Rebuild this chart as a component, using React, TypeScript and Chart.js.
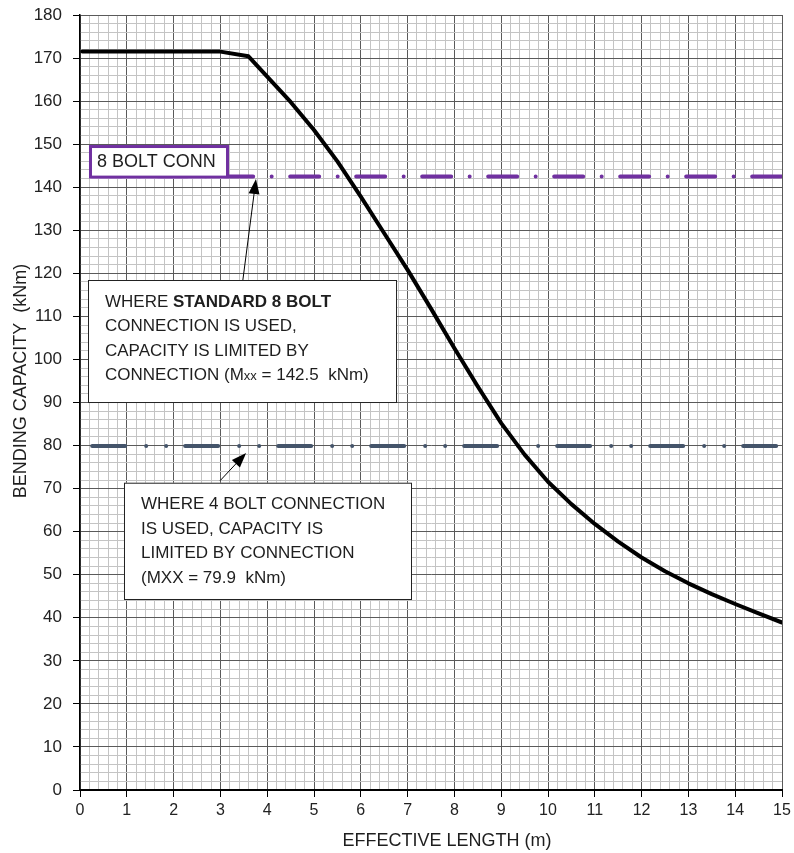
import React, { useEffect, useRef } from "react";
import { Chart, registerables } from "chart.js";

Chart.register(...registerables);

// ---- data ----
const effectiveLength = [0.05, 1.5, 3.0, 3.6, 4.0, 4.5, 5.0, 5.5, 6.0, 6.5, 7.0, 7.5, 8.0, 8.5, 9.0, 9.5, 10.0, 10.5, 11.0, 11.5, 12.0, 12.5, 13.0, 13.5, 14.0, 14.5, 15.0];
const bendingCapacity = [171.5, 171.5, 171.5, 170.4, 165.7, 159.8, 153.3, 146.0, 137.8, 129.3, 120.8, 111.8, 102.6, 93.7, 85.2, 77.9, 71.6, 66.4, 61.8, 57.7, 54.0, 50.8, 48.0, 45.5, 43.2, 41.0, 38.9];
const connLimitX = [0.26, 15];
const conn8Limit = [142.5, 142.5];
const conn4Limit = [79.9, 79.9];
const xMajorTicks = [0, 1, 2, 3, 4, 5, 6, 7, 8, 9, 10, 11, 12, 13, 14, 15];
const yMajorTicks = [0, 10, 20, 30, 40, 50, 60, 70, 80, 90, 100, 110, 120, 130, 140, 150, 160, 170, 180];
const xTitle = "EFFECTIVE LENGTH (m)";
const yTitle = "BENDING CAPACITY  (kNm)";
const labelText = "8 BOLT CONN";
type Run = { text: string; bold?: boolean; size?: number };
const note8Lines: Run[][] = [
  [{ text: "WHERE " }, { text: "STANDARD 8 BOLT", bold: true }],
  [{ text: "CONNECTION IS USED," }],
  [{ text: "CAPACITY IS LIMITED BY" }],
  [{ text: "CONNECTION (M" }, { text: "xx", size: 13 }, { text: " = 142.5  kNm)" }],
];
const note4Lines: Run[][] = [
  [{ text: "WHERE 4 BOLT CONNECTION" }],
  [{ text: "IS USED, CAPACITY IS" }],
  [{ text: "LIMITED BY CONNECTION" }],
  [{ text: "(MXX = 79.9  kNm)" }],
];

// ---- styles / layout ----
const FONT = 'Arial, "Liberation Sans", Helvetica, sans-serif';
const MAJOR = "#5a5a5a";
const MINOR = "#c4c4c4";
const PURPLE = "#7030A0";
const SLATE = "#44546A";
const TEXT = "#1e1e1e";

const isMajor = (v: number, list: number[]) =>
  v !== undefined && list.some((m) => Math.abs(m - v) < 1e-6);

const annotPlugin = {
  id: "annot",
  beforeDraw(chart: any) {
    const ctx = chart.ctx;
    ctx.save();
    ctx.fillStyle = "#fff";
    ctx.fillRect(0, 0, chart.width, chart.height);
    ctx.restore();
  },
  afterDatasetsDraw(chart: any) {
    const ctx: CanvasRenderingContext2D = chart.ctx;
    const xs = chart.scales.x;
    const ys = chart.scales.y;
    const px = (v: number) => xs.getPixelForValue(v);
    const py = (v: number) => ys.getPixelForValue(v);

    const drawRuns = (runs: Run[], x: number, y: number, base: number) => {
      let cx = x;
      for (const r of runs) {
        ctx.font = `${r.bold ? "bold " : ""}${r.size || base}px ${FONT}`;
        ctx.fillText(r.text, cx, y);
        cx += ctx.measureText(r.text).width;
      }
    };
    const arrow = (x0: number, y0: number, x1: number, y1: number) => {
      const a = Math.atan2(y1 - y0, x1 - x0);
      const len = 15, hw = 5.5;
      ctx.strokeStyle = "#000";
      ctx.lineWidth = 1;
      ctx.beginPath();
      ctx.moveTo(x0, y0);
      ctx.lineTo(x1 - Math.cos(a) * len * 0.8, y1 - Math.sin(a) * len * 0.8);
      ctx.stroke();
      ctx.fillStyle = "#000";
      ctx.beginPath();
      ctx.moveTo(x1, y1);
      ctx.lineTo(x1 - Math.cos(a) * len - Math.sin(a) * hw, y1 - Math.sin(a) * len + Math.cos(a) * hw);
      ctx.lineTo(x1 - Math.cos(a) * len + Math.sin(a) * hw, y1 - Math.sin(a) * len - Math.cos(a) * hw);
      ctx.closePath();
      ctx.fill();
    };
    const box = (x0: number, x1: number, yt: number, yb: number, color: string, lw: number) => {
      const l = px(x0), r = px(x1), t = py(yt), b = py(yb);
      ctx.fillStyle = "#fff";
      ctx.fillRect(l, t, r - l, b - t);
      ctx.strokeStyle = color;
      ctx.lineWidth = lw;
      ctx.strokeRect(l + lw / 2, t + lw / 2, r - l - lw, b - t - lw);
      return { l, t };
    };

    ctx.save();
    ctx.textBaseline = "alphabetic";
    ctx.textAlign = "left";

    // "8 BOLT CONN" label
    const lb = box(0.192, 3.184, 149.8, 142.0, PURPLE, 3);
    ctx.fillStyle = TEXT;
    ctx.font = `18px ${FONT}`;
    ctx.fillText(labelText, lb.l + 8, lb.t + 22);

    // arrows
    arrow(px(3.48), py(118.45), px(3.76), py(141.9));
    arrow(px(2.99), py(71.8), px(3.55), py(78.3));

    // note boxes
    const b8 = box(0.171, 6.774, 118.45, 89.88, "#222", 1);
    ctx.fillStyle = TEXT;
    note8Lines.forEach((runs, i) => drawRuns(runs, b8.l + 17, b8.t + 27 + i * 24.4, 17));
    const b4 = box(0.94, 7.094, 71.37, 44.13, "#222", 1);
    ctx.fillStyle = TEXT;
    note4Lines.forEach((runs, i) => drawRuns(runs, b4.l + 17, b4.t + 26.5 + i * 24.6, 17));

    // axis titles
    ctx.fillStyle = TEXT;
    ctx.font = `18px ${FONT}`;
    ctx.textAlign = "center";
    ctx.textBaseline = "middle";
    ctx.fillText(xTitle, 447, 841);
    ctx.translate(21, 381);
    ctx.rotate(-Math.PI / 2);
    ctx.fillText(yTitle, 0, 0);
    ctx.restore();
  },
};

export default function App() {
  const ref = useRef<HTMLCanvasElement | null>(null);

  useEffect(() => {
    document.body.style.margin = "0";
    if (!ref.current) return;
    const toXY = (xsArr: number[], ysArr: number[]) => xsArr.map((x, i) => ({ x, y: ysArr[i] }));
    const chart = new Chart(ref.current, {
      type: "line",
      data: {
        datasets: [
          {
            label: "Capacity",
            data: toXY(effectiveLength, bendingCapacity),
            borderColor: "#000",
            borderWidth: 4,
            pointRadius: 0,
            tension: 0,
            borderJoinStyle: "round",
            borderCapStyle: "round",
          },
          {
            label: "8 bolt",
            data: toXY(connLimitX, conn8Limit),
            borderColor: PURPLE,
            borderWidth: 4,
            pointRadius: 0,
            borderCapStyle: "round",
            borderDash: [29, 18.5, 0, 18.5],
          },
          {
            label: "4 bolt",
            data: toXY(connLimitX, conn4Limit),
            borderColor: SLATE,
            borderWidth: 4,
            pointRadius: 0,
            borderCapStyle: "round",
            borderDash: [33, 21, 0, 20, 0, 19],
          },
        ],
      },
      options: {
        responsive: false,
        animation: false,
        devicePixelRatio: 1,
        layout: { padding: { top: 15, right: 12, left: 0, bottom: 0 } },
        plugins: { legend: { display: false }, tooltip: { enabled: false }, title: { display: false } },
        scales: {
          x: {
            type: "linear",
            min: 0,
            max: 15,
            afterFit: (s: any) => { s.height = 63; s.paddingLeft = 0; s.paddingRight = 0; },
            ticks: {
              stepSize: 0.2,
              autoSkip: false,
              maxRotation: 0,
              padding: 4,
              color: "#222",
              font: { family: FONT, size: 16 },
              callback: (v: any) => (isMajor(Number(v), xMajorTicks) ? String(Math.round(Number(v))) : ""),
            },
            grid: {
              lineWidth: 1,
              tickLength: 7,
              color: (c: any) => (isMajor(c.tick?.value, xMajorTicks) ? MAJOR : MINOR),
              tickColor: (c: any) => (isMajor(c.tick?.value, xMajorTicks) ? "#000" : "rgba(0,0,0,0)"),
            },
            border: { display: true, color: "#000", width: 2 },
          },
          y: {
            type: "linear",
            min: 0,
            max: 180,
            afterFit: (s: any) => { s.width = 80; s.paddingTop = 0; s.paddingBottom = 0; },
            ticks: {
              stepSize: 2,
              autoSkip: false,
              padding: 11,
              color: "#222",
              font: { family: FONT, size: 17 },
              callback: (v: any) => (isMajor(Number(v), yMajorTicks) ? String(Math.round(Number(v))) : ""),
            },
            grid: {
              lineWidth: 1,
              tickLength: 7,
              color: (c: any) => (isMajor(c.tick?.value, yMajorTicks) ? MAJOR : MINOR),
              tickColor: (c: any) => (isMajor(c.tick?.value, yMajorTicks) ? "#000" : "rgba(0,0,0,0)"),
            },
            border: { display: true, color: "#000", width: 1.5 },
          },
        },
      },
      plugins: [annotPlugin],
    } as any);
    return () => chart.destroy();
  }, []);

  return (
    <div style={{ width: 794, height: 853 }}>
      <canvas ref={ref} width={794} height={853} style={{ display: "block" }} />
    </div>
  );
}
